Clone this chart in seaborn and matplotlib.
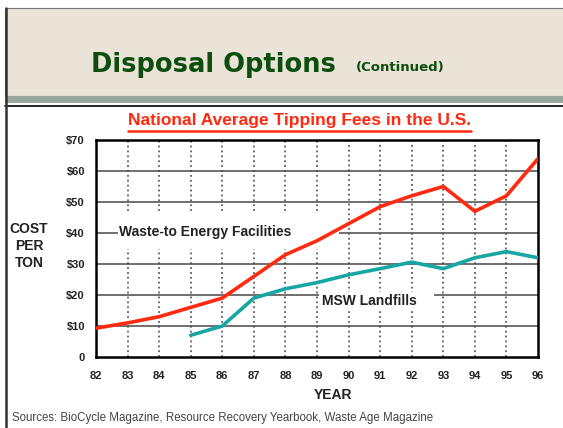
import pandas as pd
import numpy as np
import matplotlib.pyplot as plt
import seaborn as sns
from matplotlib.patches import Rectangle
from matplotlib.lines import Line2D

# dados (US$ por tonelada)
years = list(range(82, 97))
wte_fees = [9.3, 11, 13, 16, 19, 26, 33, 37.5, 43, 48.5, 52, 55, 47, 52, 64]
msw_years = list(range(85, 97))
msw_fees = [7, 10, 19, 22, 24, 26.5, 28.5, 30.6, 28.5, 32, 34, 32]
ytick_vals = [0, 10, 20, 30, 40, 50, 60, 70]
ytick_labels = ["0", "$10", "$20", "$30", "$40", "$50", "$60", "$70"]

RED = "#ff2a10"
TEAL = "#17a6a3"
GREEN = "#0d4d0d"

sns.set_theme(style="white")
plt.rcParams['font.family'] = ['Liberation Sans', 'DejaVu Sans']

W, H = 563, 428
fig = plt.figure(figsize=(W / 100, H / 100), dpi=100, facecolor="white")

def fx(px):
    return px / W

def fy(py):
    return 1 - py / H

# --- cabecalho do slide ---
fig.patches.append(Rectangle((fx(5), fy(96)), fx(560), 88 / H, transform=fig.transFigure,
                             facecolor="#e9e3d8", edgecolor="#777777", linewidth=0.8, zorder=0))
fig.patches.append(Rectangle((fx(5), fy(103)), fx(560), 7 / H, transform=fig.transFigure,
                             facecolor="#98a69e", edgecolor="none", zorder=0))
fig.lines.append(Line2D([fx(5), 1], [fy(105.5), fy(105.5)], transform=fig.transFigure,
                        color="black", linewidth=1.2))
fig.lines.append(Line2D([fx(6), fx(6)], [fy(8), 0], transform=fig.transFigure,
                        color="#333333", linewidth=1.8))

fig.text(fx(91), fy(65), "Disposal Options", color=GREEN, fontsize=18.5, fontweight="bold",
         family="DejaVu Sans", va="center", ha="left")
fig.text(fx(356), fy(68), "(Continued)", color=GREEN, fontsize=9.5, fontweight="bold",
         family="DejaVu Sans", va="center", ha="left")

# --- titulo do grafico ---
fig.text(fx(300), fy(120), "National Average Tipping Fees in the U.S.", color=RED,
         fontsize=12.5, fontweight="bold", ha="center", va="center")
fig.lines.append(Line2D([fx(128), fx(471)], [fy(131), fy(131)], transform=fig.transFigure,
                        color=RED, linewidth=1.8))

# --- eixo ---
ax = fig.add_axes([fx(96), fy(357), fx(538 - 96), (357 - 140) / H])
ax.set_facecolor("white")

# grades horizontais (com recortes como no original)
for v in [10, 30, 50, 60]:
    ax.hlines(v, 82, 96, color="#6f6f6f", linewidth=1.4, zorder=1)
ax.hlines(20, 82, 89.05, color="#6f6f6f", linewidth=1.4, zorder=1)
ax.hlines(20, 92.7, 96, color="#6f6f6f", linewidth=1.4, zorder=1)
ax.hlines(40, 89.7, 96, color="#6f6f6f", linewidth=1.4, zorder=1)
ax.hlines(40, 82, 82.7, color="#6f6f6f", linewidth=1.4, zorder=1)

# grades verticais pontilhadas
for yr in years[1:-1]:
    if yr <= 89:
        ax.vlines(yr, 0, 35, color="#444444", linewidth=1.1, linestyles=(0, (1.2, 2.0)), zorder=1)
        ax.vlines(yr, 47, 70, color="#444444", linewidth=1.1, linestyles=(0, (1.2, 2.0)), zorder=1)
    else:
        ax.vlines(yr, 0, 70, color="#444444", linewidth=1.1, linestyles=(0, (1.2, 2.0)), zorder=1)

df = pd.concat([
    pd.DataFrame({"year": years, "fee": wte_fees, "tipo": "Waste-to Energy Facilities"}),
    pd.DataFrame({"year": msw_years, "fee": msw_fees, "tipo": "MSW Landfills"}),
])
sns.lineplot(data=df, x="year", y="fee", hue="tipo",
             palette={"Waste-to Energy Facilities": RED, "MSW Landfills": TEAL},
             linewidth=2.6, legend=False, ax=ax, zorder=3)

ax.text(82.72, 40.3, "Waste-to Energy Facilities", fontsize=10, fontweight="bold",
        color="#222222", va="center", ha="left", zorder=4)
ax.text(89.15, 18, "MSW Landfills", fontsize=10, fontweight="bold", color="#222222",
        va="center", ha="left", zorder=4,
        bbox=dict(facecolor="white", edgecolor="none", pad=1.5))

ax.set_xlim(82, 96)
ax.set_ylim(0, 70)
ax.set_xticks(years)
ax.set_xticklabels([str(y) for y in years], fontsize=8, fontweight="bold", color="#222222")
ax.set_yticks(ytick_vals)
ax.set_yticklabels(ytick_labels, fontsize=8, fontweight="bold", color="#222222")
ax.tick_params(axis="x", length=0, pad=10)
ax.tick_params(axis="y", length=5, width=1.3, color="#555555", pad=3)
for s in ax.spines.values():
    s.set_color("black")
    s.set_linewidth(1.8)
ax.set_xlabel("")
ax.set_ylabel("")

fig.text(fx(29), fy(246), "COST\nPER\nTON", fontsize=10, fontweight="bold", color="#222222",
         ha="center", va="center", linespacing=1.25)
fig.text(fx(333), fy(395), "YEAR", fontsize=10, fontweight="bold", color="#222222",
         ha="center", va="center")
fig.text(fx(12), fy(418), "Sources: BioCycle Magazine, Resource Recovery Yearbook, Waste Age Magazine",
         fontsize=8.3, color="#444444", ha="left", va="center")

plt.savefig("out.png", dpi=100, facecolor=fig.get_facecolor())
